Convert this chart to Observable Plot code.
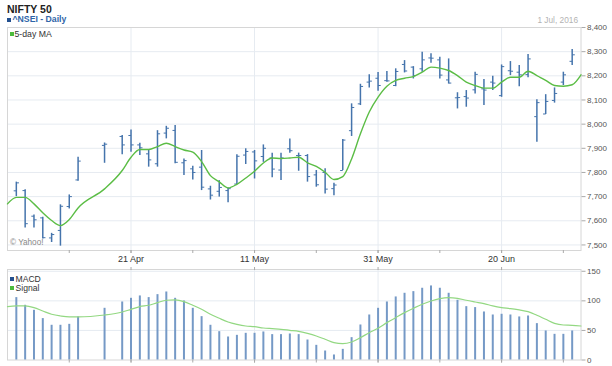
<!DOCTYPE html>
<html><head><meta charset="utf-8">
<script src="https://cdn.jsdelivr.net/npm/d3@7"></script>
<script src="https://cdn.jsdelivr.net/npm/@observablehq/plot@0.6"></script>
<style>
html,body{margin:0;padding:0;background:#fff;}
#wrap{position:relative;width:612px;height:366px;overflow:hidden;font-family:"Liberation Sans",Arial,sans-serif;}
.abs{position:absolute;white-space:nowrap;line-height:1;}
.sq{position:absolute;width:4px;height:4px;}
#top,#bot{position:absolute;left:0;}
#top{top:0}
#bot{top:262px}
</style></head><body>
<div id="wrap">
  <div id="top"></div><div id="bot"></div>
  <div class="abs" style="left:7px;top:4px;font-size:10.5px;font-weight:bold;color:#222">NIFTY 50</div>
  <div class="sq" style="left:7px;top:18px;background:#23508f"></div>
  <div class="abs" style="left:12.5px;top:15.4px;font-size:8.7px;font-weight:bold;color:#2f65a8">^NSEI - Daily</div>
  <div class="abs" style="right:34px;top:15.7px;font-size:8.3px;color:#b3b3b3">1 Jul, 2016</div>
  <div class="sq" style="left:9.5px;top:32px;background:#4cbb3c"></div>
  <div class="abs" style="left:14.5px;top:30.3px;font-size:8.7px;color:#333">5-day MA</div>
  <div class="abs" style="left:10px;top:239px;font-size:8.2px;color:#888">© Yahoo!</div>
  <div class="sq" style="left:9.5px;top:277px;background:#23508f"></div>
  <div class="abs" style="left:15.5px;top:274.5px;font-size:8.6px;color:#333">MACD</div>
  <div class="sq" style="left:9.5px;top:286px;background:#4cbb3c"></div>
  <div class="abs" style="left:15.5px;top:283.5px;font-size:8.6px;color:#333">Signal</div>
</div>
<script>
// ---------- data ----------
const tradingDates = [
  "2016-04-04","2016-04-05","2016-04-06","2016-04-07","2016-04-08","2016-04-11","2016-04-12","2016-04-13","2016-04-18","2016-04-20","2016-04-21","2016-04-22","2016-04-25","2016-04-26","2016-04-27","2016-04-28","2016-04-29",
  "2016-05-02","2016-05-03","2016-05-04","2016-05-05","2016-05-06","2016-05-09","2016-05-10","2016-05-11","2016-05-12","2016-05-13","2016-05-16","2016-05-17","2016-05-18","2016-05-19","2016-05-20","2016-05-23","2016-05-24","2016-05-25","2016-05-26","2016-05-27","2016-05-30","2016-05-31",
  "2016-06-01","2016-06-02","2016-06-03","2016-06-06","2016-06-07","2016-06-08","2016-06-09","2016-06-10","2016-06-13","2016-06-14","2016-06-15","2016-06-16","2016-06-17","2016-06-20","2016-06-21","2016-06-22","2016-06-23","2016-06-24","2016-06-27","2016-06-28","2016-06-29","2016-06-30"
];
const open = [
  7724,7725,7619,7612,7529,7560,7659,7769,7912,7949,7953,7914,7877,7836,7963,7974,7840,
  7815,7822,7732,7722,7725,7752,7872,7885,7866,7860,7810,7898,7870,7870,7790,7800,7733,7808,7973,8084,8174,8190,
  8180,8160,8247,8236,8229,8274,8266,8183,8109,8114,8142,8146,8174,8118,8221,8215,8205,8031,8042,8098,8174,8260
];
const high = [
  7760,7728,7624,7615,7548,7666,7707,7863,7922,7953,7976,7921,7893,7973,7991,7994,7856,
  7826,7891,7743,7766,7736,7873,7898,7891,7914,7880,7880,7939,7880,7874,7808,7815,7755,7936,8084,8165,8204,8214,
  8218,8229,8263,8238,8298,8291,8277,8270,8130,8139,8215,8185,8198,8245,8259,8243,8288,8101,8122,8150,8215,8309
];
const low = [
  7700,7570,7570,7525,7510,7495,7649,7764,7838,7873,7884,7870,7822,7822,7939,7836,7787,
  7769,7725,7686,7698,7675,7750,7833,7773,7842,7778,7767,7880,7805,7760,7739,7711,7704,7808,7949,8077,8150,8136,
  8173,8155,8212,8187,8215,8252,8187,8166,8063,8070,8125,8077,8139,8111,8201,8155,8192,7925,8040,8087,8160,8243
];
const close = [
  7757,7588,7604,7530,7543,7660,7700,7847,7917,7914,7914,7902,7852,7960,7983,7842,7849,
  7800,7739,7706,7738,7733,7867,7887,7848,7900,7814,7860,7890,7870,7783,7749,7731,7748,7934,8069,8156,8178,8160,
  8179,8218,8220,8201,8266,8273,8203,8170,8110,8108,8206,8141,8170,8238,8219,8204,8270,8089,8094,8127,8204,8287
];
// 5-day MA (Apr 1, every trading day, Jul 1)
const lineDates = ["2016-04-01", ...tradingDates, "2016-07-01"];
const ma5 = [
  7670,
  7697,7697,7670,7633,7601,7580,7605,7653,7732,7808,7863,7895,7895,7907,7921,7907,7893,
  7884,7845,7787,7761,7736,7751,7777,7805,7839,7860,7858,7860,7863,7840,7825,7801,7771,7783,7856,7960,8050,8112,
  8157,8181,8190,8197,8215,8236,8232,8222,8201,8174,8160,8149,8149,8174,8194,8194,8219,8201,8181,8160,8157,8163,
  8204
];
const macd = [
  105.5,92.5,84,70,58.7,58.7,60.3,72.8,87.4,98.1,104.3,108.3,105.5,110.5,115,104.3,99.8,
  87.4,73.3,58.7,47.9,38.9,41.7,45.1,45.1,47.4,42.9,42.9,44,42.9,33.8,24.8,15.2,8.5,18,37.8,59.2,76.1,87.4,
  98.1,106.6,112.8,115.6,121.3,125.2,121.3,112.8,101,90.2,88.6,81.2,76.1,77.3,76.1,72.8,74.4,61.5,49.1,43.4,43.4,49.1
];
const signal = [
  90.2,
  91.4,91.4,88.6,82.9,77.3,74.4,72.8,72.8,76.1,81.2,85.7,90.2,92.5,97,101,101.5,98.7,
  92.5,85.7,77.3,70.5,64.3,60.3,57.5,56.4,54.1,53,51.9,50.2,48.5,45,40.6,35,29.3,27.6,30.5,37.8,46.2,53.6,
  63.2,71.6,80.1,87.4,94.2,99.8,103.8,105.5,104.3,101,98.1,95.3,91.4,88.6,86.9,84.6,81.8,75.6,68.8,62,59.2,58.7,
  57.5
];
const priceTicks = [7500,7600,7700,7800,7900,8000,8100,8200,8300,8400];
const macdTicks = [0,50,100,150];
const labelDates = ["2016-04-21","2016-05-11","2016-05-31","2016-06-20"];
const labelTexts = ["21 Apr","11 May","31 May","20 Jun"];

// ---------- helpers: weekday slot index (weekends skipped, holidays kept as gaps) ----------
const START = Date.UTC(2016,3,1);
function slotOf(s){
  const end = Date.parse(s+"T00:00:00Z");
  let n = 0;
  for (let t = START; t < end; t += 86400000) {
    const w = new Date(t).getUTCDay();
    if (w !== 0 && w !== 6) n++;
  }
  return n;
}
const lastSlot = slotOf("2016-07-01");
const bars = tradingDates.map((d,i)=>({slot: slotOf(d), open: open[i], high: high[i], low: low[i], close: close[i], macd: macd[i]}));
const lines = lineDates.map((d,i)=>({slot: slotOf(d), ma: ma5[i], signal: signal[i]}));
const majorSlots = labelDates.map(slotOf);
const labelMap = new Map(majorSlots.map((s,i)=>[s,labelTexts[i]]));
const minorSlots = d3.range(7, lastSlot, 7);

const BAR = "#4574ac", MA = "#5bbd45", MACDC = "#7599c6", SIG = "#93d882", GRID = "#e6ebf1", FRAME = "#d6d6d6";
const font = {fontFamily: "Liberation Sans, Arial, sans-serif", background: "transparent", overflow: "visible"};
const W = 612, ML = 7, MR = 31.5;
const tickLen = 0.3;

const topChart = Plot.plot({
  width: W, height: 262, marginTop: 27, marginBottom: 12, marginLeft: ML, marginRight: MR,
  style: font,
  x: {type: "linear", domain: [0, lastSlot], axis: null},
  y: {domain: [7477, 8400], axis: null},
  marks: [
    Plot.gridY(priceTicks, {stroke: GRID, strokeOpacity: 1}),
    Plot.gridX(majorSlots, {stroke: GRID, strokeOpacity: 1}),
    Plot.frame({stroke: FRAME}),
    Plot.ruleX(bars, {x: "slot", y1: "low", y2: "high", stroke: BAR, strokeWidth: 1.5}),
    Plot.link(bars, {x1: d => d.slot - tickLen, x2: "slot", y1: "open", y2: "open", stroke: BAR, strokeWidth: 1}),
    Plot.link(bars, {x1: "slot", x2: d => d.slot + tickLen, y1: "close", y2: "close", stroke: BAR, strokeWidth: 1}),
    Plot.line(lines, {x: "slot", y: "ma", stroke: MA, strokeWidth: 1.4, curve: "monotone-x"}),
    Plot.axisY(priceTicks, {anchor: "right", tickSize: 4, tickPadding: 2, tickFormat: d3.format(","), fontSize: 8, color: "#555", stroke: "#aaa", label: null}),
    Plot.axisX(minorSlots.concat(majorSlots), {anchor: "bottom", tickSize: 3, tickFormat: () => "", stroke: "#aaa", label: null}),
    Plot.axisX(majorSlots, {anchor: "bottom", tickSize: 0, tickPadding: 5, tickFormat: d => labelMap.get(d), fontSize: 9, color: "#333", label: null})
  ]
});
document.getElementById("top").appendChild(topChart);

const botChart = Plot.plot({
  width: W, height: 104, marginTop: 7, marginBottom: 6.5, marginLeft: ML, marginRight: MR,
  style: font,
  x: {type: "linear", domain: [0, lastSlot], axis: null},
  y: {domain: [0, 153], axis: null},
  marks: [
    Plot.gridY([50,100,150], {stroke: GRID, strokeOpacity: 1}),
    Plot.gridX(majorSlots, {stroke: GRID, strokeOpacity: 1}),
    Plot.frame({stroke: FRAME}),
    Plot.ruleX(bars, {x: "slot", y1: 0, y2: "macd", stroke: MACDC, strokeWidth: 2}),
    Plot.line(lines, {x: "slot", y: "signal", stroke: SIG, strokeWidth: 1.2, curve: "monotone-x"}),
    Plot.axisY(macdTicks, {anchor: "right", tickSize: 4, tickPadding: 2, fontSize: 8, color: "#555", stroke: "#aaa", label: null}),
    Plot.axisX(minorSlots.concat(majorSlots), {anchor: "bottom", tickSize: 3, tickFormat: () => "", stroke: "#aaa", label: null}),
    Plot.axisX(majorSlots, {anchor: "top", tickSize: 3, tickFormat: () => "", stroke: "#aaa", label: null})
  ]
});
document.getElementById("bot").appendChild(botChart);
</script>
</body></html>
